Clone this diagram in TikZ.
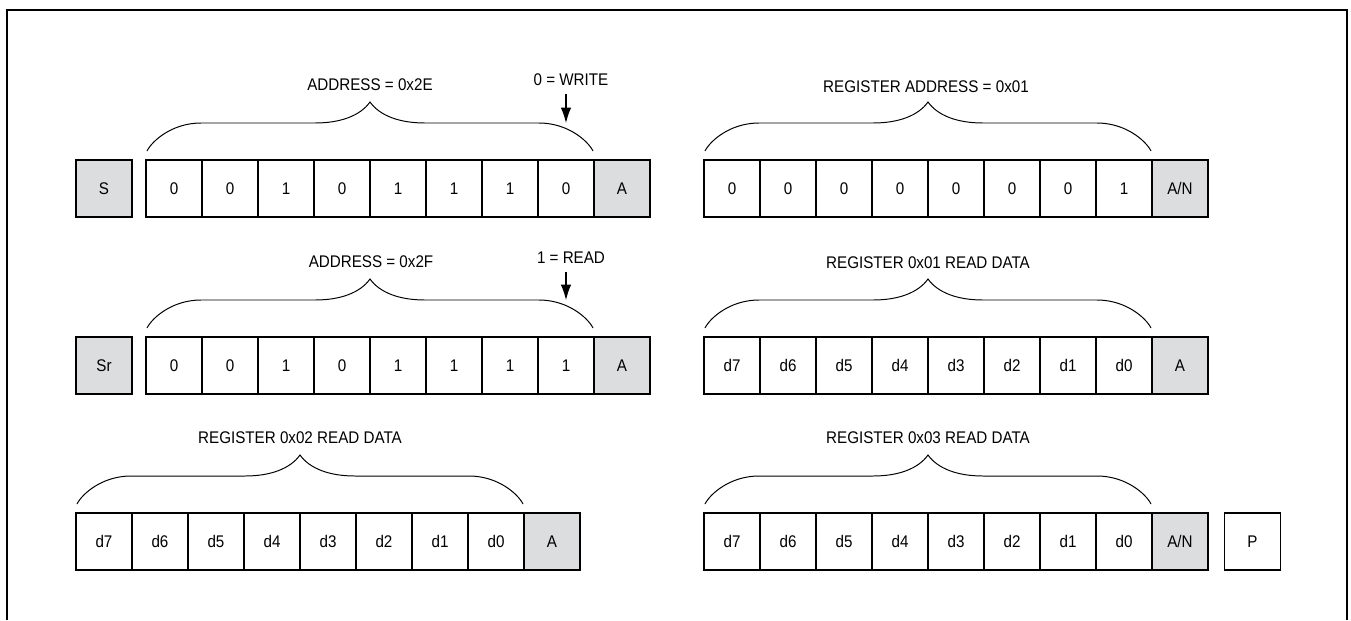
\documentclass[tikz,border=0pt]{standalone}
\usepackage{fontspec}
\setmainfont{Liberation Sans}[FakeStretch=0.9]
\usetikzlibrary{arrows.meta}
\definecolor{ackgray}{RGB}{220,221,223}

\begin{document}
\begin{tikzpicture}[x=0.025cm, y=-0.025cm, font=\fontsize{12}{14}\selectfont]

      \tikzset{bit/.style={draw, line width=0.9pt, minimum width=1.4cm, minimum height=1.425cm, inner sep=0pt, outer sep=0pt},
               ack/.style={bit, fill=ackgray},
               bracepath/.style={line width=0.7pt},
               pointer/.style={->, >={Latex[length=11pt,width=7.5pt]}, line width=0.8pt, shorten <=2pt}}
      \useasboundingbox (0,0) rectangle (1351,620);
%% Frame
      \draw[line width=1.8pt] (7,620) -- (7,10) -- (1347,10) -- (1347,620);

%% Row 1: slave address write, register address
      \node[ack] (st) at (104,188.5) {S};
      \foreach \v [count=\i] in {0,0,1,0,1,1,1,0}
        \node[bit] (wa\i) at ({118+56*\i},188.5) {\v};
      \node[ack] (wack) at (622,188.5) {A};
      \foreach \v [count=\i] in {0,0,0,0,0,0,0,1}
        \node[bit] (ra\i) at ({676+56*\i},188.5) {\v};
      \node[ack] (rack) at (1180,188.5) {A/N};

%% Row 2: repeated start, slave address read, data 0x01
      \node[ack] (rst) at (104,365.5) {Sr};
      \foreach \v [count=\i] in {0,0,1,0,1,1,1,1}
        \node[bit] (rda\i) at ({118+56*\i},365.5) {\v};
      \node[ack] (rdack) at (622,365.5) {A};
      \foreach \v [count=\i] in {7,6,5,4,3,2,1,0}
        \node[bit] (da\i) at ({676+56*\i},365.5) {d\v};
      \node[ack] (daack) at (1180,365.5) {A};

%% Row 3: data 0x02, data 0x03, stop
      \foreach \v [count=\i] in {7,6,5,4,3,2,1,0}
        \node[bit] (db\i) at ({48+56*\i},541.5) {d\v};
      \node[ack] (dback) at (552,541.5) {A};
      \foreach \v [count=\i] in {7,6,5,4,3,2,1,0}
        \node[bit] (dc\i) at ({676+56*\i},541.5) {d\v};
      \node[ack] (dcack) at (1180,541.5) {A/N};
      \node[bit] (sp) at (1252.5,541.5) {P};

%% Braces
      \foreach \xa/\xb/\yt in {146/594/160, 704/1152/160, 146/594/337, 704/1152/337, 76/524/513, 704/1152/513}{
        \pgfmathsetmacro{\xm}{(\xa+\xb)/2}
        \draw[bracepath] (\xa+1,\yt-9) .. controls (\xa+6,\yt-19) and (\xa+26,\yt-37) .. (\xa+55,\yt-37)
          -- (\xm-55,\yt-37) .. controls (\xm-30,\yt-37) and (\xm-10,\yt-44) .. (\xm,\yt-58)
          .. controls (\xm+10,\yt-44) and (\xm+30,\yt-37) .. (\xm+55,\yt-37)
          -- (\xb-55,\yt-37) .. controls (\xb-26,\yt-37) and (\xb-6,\yt-19) .. (\xb-1,\yt-9);
      }

%% Labels
      \node (adw) at (370,85) {ADDRESS = 0x2E};
      \node (wrbit) at (571,80) {0 = WRITE};
      \node (regad) at (926,87) {REGISTER ADDRESS = 0x01};
      \node (adr) at (371,262) {ADDRESS = 0x2F};
      \node (rdbit) at (571,258) {1 = READ};
      \node (rega) at (928,263) {REGISTER 0x01 READ DATA};
      \node (regb) at (300,438) {REGISTER 0x02 READ DATA};
      \node (regc) at (928,438) {REGISTER 0x03 READ DATA};
%% R/W pointers
      \coordinate (wrtip) at (566,123);
      \coordinate (rdtip) at (566,300);
      \draw[pointer] (wrbit.south -| wrtip) -- (wrtip);
      \draw[pointer] (rdbit.south -| rdtip) -- (rdtip);

\end{tikzpicture}
\end{document}
